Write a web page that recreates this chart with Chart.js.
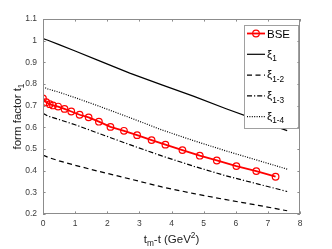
<!DOCTYPE html>
<html>
<head>
<meta charset="utf-8">
<script src="https://cdn.jsdelivr.net/npm/chart.js@4.4.1/dist/chart.umd.min.js"></script>
<style>
  body { margin: 0; background: #fff; }
  canvas { display: block; }
</style>
</head>
<body>
<canvas id="form-factor" width="332" height="249"></canvas>
<script>
// values
const bseX = [0, 0.10, 0.21, 0.31, 0.47, 0.67, 0.88, 1.14, 1.42, 1.74, 2.10, 2.52, 2.93, 3.38, 3.81, 4.34, 4.88, 5.41, 6.02, 6.64, 7.24];
const bseY = [0.733, 0.716, 0.707, 0.701, 0.696, 0.685, 0.673, 0.658, 0.646, 0.626, 0.602, 0.584, 0.564, 0.541, 0.52, 0.495, 0.469, 0.447, 0.421, 0.398, 0.372];

const xiX = [0, 0.15, 0.5, 1, 1.7, 2.7, 3.7, 4.7, 5.7, 6.7, 7.6];
const xi1 = [1.01, 1.002, 0.982, 0.952, 0.910, 0.850, 0.796, 0.743, 0.686, 0.632, 0.585];
const xi12 = [0.472, 0.462, 0.445, 0.425, 0.398, 0.362, 0.325, 0.294, 0.266, 0.24, 0.215];
const xi13 = [0.665, 0.652, 0.636, 0.612, 0.574, 0.52, 0.468, 0.42, 0.376, 0.338, 0.304];
const xi14 = [0.787, 0.777, 0.762, 0.737, 0.700, 0.645, 0.588, 0.538, 0.491, 0.447, 0.407];

const xTicks = [0, 1, 2, 3, 4, 5, 6, 7, 8];
const yTicks = [0.2, 0.3, 0.4, 0.5, 0.6, 0.7, 0.8, 0.9, 1, 1.1];

const legendLabels = [
  [{ t: "BSE" }],
  [{ t: "\u03BE" }, { t: "1", sub: true }],
  [{ t: "\u03BE" }, { t: "1-2", sub: true }],
  [{ t: "\u03BE" }, { t: "1-3", sub: true }],
  [{ t: "\u03BE" }, { t: "1-4", sub: true }],
];

const FONT = "'Liberation Sans', Arial, Helvetica, sans-serif";
const axisColor = "#8c8c8c";

function toPoints(xs, ys) {
  return xs.map((x, i) => ({ x: x, y: ys[i] }));
}

function lineSet(label, ys, dash) {
  return {
    label: label,
    data: toPoints(xiX, ys),
    borderColor: "#000",
    borderWidth: 1.2,
    borderDash: dash,
    pointRadius: 0,
    tension: 0,
    fill: false,
  };
}

// draws text with sub/superscript pieces
function drawRich(ctx, parts, x, y, size, align) {
  const small = size * 0.72;
  let width = 0;
  for (const p of parts) {
    ctx.font = (p.sub || p.sup ? small : size) + "px " + FONT;
    width += ctx.measureText(p.t).width;
  }
  let cx = align === "center" ? x - width / 2 : x;
  ctx.textAlign = "left";
  ctx.textBaseline = "alphabetic";
  for (const p of parts) {
    ctx.font = (p.sub || p.sup ? small : size) + "px " + FONT;
    let dy = 0;
    if (p.sub) dy = size * 0.3;
    if (p.sup) dy = -size * 0.42;
    ctx.fillText(p.t, cx, y + dy);
    cx += ctx.measureText(p.t).width;
  }
}

const matlabFrame = {
  id: "matlabFrame",
  afterDatasetsDraw(chart) {
    const { ctx, chartArea: a, scales } = chart;
    ctx.save();

    // legend box (opaque, covers the curves)
    const lx = 244, ly = 25, lw = 54, lh = 103;
    ctx.fillStyle = "#fff";
    ctx.fillRect(lx, ly, lw, lh);
    ctx.strokeStyle = "#a0a0a0";
    ctx.lineWidth = 1;
    ctx.strokeRect(lx + 0.5, ly + 0.5, lw, lh);

    chart.data.datasets.forEach((ds, i) => {
      const yy = 33.5 + i * 20.8;
      ctx.strokeStyle = ds.borderColor;
      ctx.lineWidth = ds.borderWidth;
      ctx.setLineDash(ds.borderDash || []);
      ctx.beginPath();
      ctx.moveTo(247, yy);
      ctx.lineTo(265, yy);
      ctx.stroke();
      ctx.setLineDash([]);
      if (ds.pointRadius > 0) {
        ctx.lineWidth = ds.pointBorderWidth;
        ctx.beginPath();
        ctx.arc(256, yy, ds.pointRadius, 0, Math.PI * 2);
        ctx.stroke();
      }
      ctx.fillStyle = "#000";
      const base = i === 0 ? yy + 4.3 : yy + 3.2;
      drawRich(ctx, legendLabels[i], 267, base, 11.5, "left");
    });

    // axis box and inward ticks
    ctx.strokeStyle = axisColor;
    ctx.lineWidth = 1;
    ctx.strokeRect(a.left + 0.5, a.top + 0.5, a.right - a.left - 1, a.bottom - a.top - 1);
    const tl = 2.6;
    ctx.beginPath();
    for (const v of xTicks) {
      const px = Math.round(scales.x.getPixelForValue(v)) + 0.5;
      ctx.moveTo(px, a.bottom);
      ctx.lineTo(px, a.bottom - tl);
      ctx.moveTo(px, a.top);
      ctx.lineTo(px, a.top + tl);
    }
    for (const v of yTicks) {
      const py = Math.round(scales.y.getPixelForValue(v)) + 0.5;
      ctx.moveTo(a.left, py);
      ctx.lineTo(a.left + tl, py);
      ctx.moveTo(a.right, py);
      ctx.lineTo(a.right - tl, py);
    }
    ctx.stroke();

    // axis titles
    ctx.fillStyle = "#222";
    drawRich(ctx, [{ t: "t" }, { t: "m", sub: true }, { t: "-t (GeV" }, { t: "2", sup: true }, { t: ")" }],
      (a.left + a.right) / 2, 243, 11.5, "center");
    ctx.translate(21, (a.top + a.bottom) / 2);
    ctx.rotate(-Math.PI / 2);
    drawRich(ctx, [{ t: "form factor t" }, { t: "1", sub: true }], 0, 0, 11.5, "center");
    ctx.restore();
  },
};

new Chart(document.getElementById("form-factor"), {
  type: "line",
  data: {
    datasets: [
      {
        label: "BSE",
        data: toPoints(bseX, bseY),
        borderColor: "#ff0000",
        borderWidth: 1.8,
        pointRadius: 3.3,
        pointBorderWidth: 1.2,
        pointBorderColor: "#ff0000",
        pointBackgroundColor: "rgba(0,0,0,0)",
        tension: 0,
        fill: false,
      },
      lineSet("xi1", xi1, []),
      lineSet("xi1-2", xi12, [5, 3.5]),
      lineSet("xi1-3", xi13, [5, 2, 1.2, 2]),
      lineSet("xi1-4", xi14, [1, 1.4]),
    ],
  },
  options: {
    responsive: false,
    animation: false,
    devicePixelRatio: 1,
    layout: { padding: { left: 0, top: 19, right: 32, bottom: 0 } },
    plugins: { legend: { display: false }, tooltip: { enabled: false } },
    scales: {
      x: {
        type: "linear",
        min: 0,
        max: 8,
        afterFit: (scale) => { scale.height = 35; },
        afterBuildTicks: (scale) => { scale.ticks = xTicks.map((v) => ({ value: v })); },
        grid: { display: false, drawTicks: false },
        border: { display: false },
        ticks: { padding: 5, color: "#3a3a3a", font: { family: FONT, size: 8.5 } },
      },
      y: {
        type: "linear",
        min: 0.2,
        max: 1.1,
        afterFit: (scale) => { scale.width = 43; },
        afterBuildTicks: (scale) => { scale.ticks = yTicks.map((v) => ({ value: v })); },
        grid: { display: false, drawTicks: false },
        border: { display: false },
        ticks: {
          padding: 6,
          color: "#3a3a3a",
          font: { family: FONT, size: 8.5 },
          callback: (value) => String(Number(value.toFixed(1))),
        },
      },
    },
  },
  plugins: [matlabFrame],
});
</script>
</body>
</html>
